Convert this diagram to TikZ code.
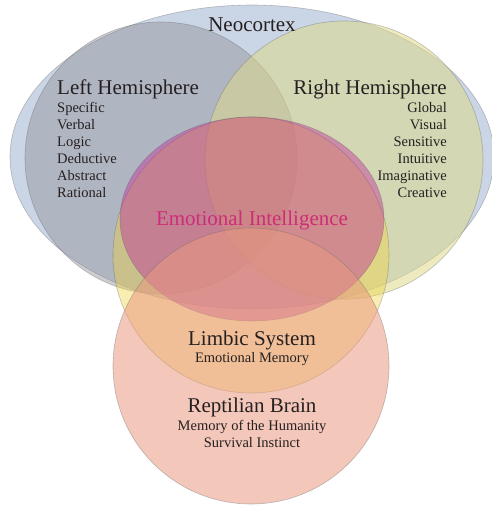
\documentclass[tikz,border=0pt]{standalone}
\usepackage{fontspec}
\setmainfont{Liberation Serif}
\definecolor{ink}{RGB}{38,32,32}
\definecolor{neofill}{RGB}{202,213,229}
\definecolor{leftfill}{RGB}{145,143,152}
\definecolor{rightfill}{RGB}{222,217,141}
\definecolor{limbfill}{RGB}{240,210,60}
\definecolor{eifill}{RGB}{190,50,155}
\definecolor{reptfill}{RGB}{233,153,130}
\definecolor{eitext}{RGB}{205,45,120}
\begin{document}
\begin{tikzpicture}[x=1pt,y=-1pt,
  zone/.style={draw=black!60, draw opacity=0.4, line width=0.6pt},
  title/.style={text=ink, font=\fontsize{21}{25}\selectfont, inner sep=0pt},
  item/.style={text=ink, font=\fontsize{14.5}{17}\selectfont, inner sep=0pt}]
\useasboundingbox (0,0) rectangle (492,507);
% brain regions
\draw[zone, fill=neofill] (252,157) ellipse [x radius=242, y radius=152];
\draw[zone, fill=leftfill, fill opacity=0.45] (161,158) circle [radius=136];
\draw[zone, fill=rightfill, fill opacity=0.55] (344,160) circle [radius=139];
\draw[zone, fill=limbfill, fill opacity=0.4] (251,255) circle [radius=138];
\draw[zone, fill=eifill, fill opacity=0.45] (252,219) ellipse [x radius=132, y radius=102];
\draw[zone, fill=reptfill, fill opacity=0.55] (251,366) circle [radius=138];
% labels
\node[title, anchor=base] (neo) at (252,31) {Neocortex};
\node[title, anchor=base west] (lefth) at (57,94) {Left Hemisphere};
\node[title, anchor=base east] (righth) at (447,94) {Right Hemisphere};
\foreach \w [count=\i from 0] in {Specific,Verbal,Logic,Deductive,Abstract,Rational}
  \node[item, anchor=base west] (left\i) at (57,112+17.1*\i) {\w};
\foreach \w [count=\i from 0] in {Global,Visual,Sensitive,Intuitive,Imaginative,Creative}
  \node[item, anchor=base east] (right\i) at (447,112+17.1*\i) {\w};
\node[title, text=eitext, anchor=base] (ei) at (252,225) {Emotional Intelligence};
\node[title, anchor=base] (limbic) at (252,345) {Limbic System};
\node[item, anchor=base] (limbicsub) at (252,362) {Emotional Memory};
\node[title, anchor=base] (rept) at (252,412) {Reptilian Brain};
\node[item, anchor=base] (reptsub) at (252,430) {Memory of the Humanity};
\node[item, anchor=base] (reptsub2) at (252,447) {Survival Instinct};
\end{tikzpicture}
\end{document}
